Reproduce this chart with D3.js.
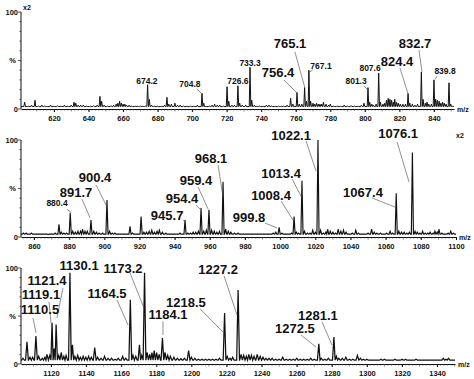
<!DOCTYPE html>
<html><head><meta charset="utf-8">
<script src="https://cdn.jsdelivr.net/npm/d3@7"></script>
<style>body{margin:0;background:#fff}svg{display:block}text{font-family:"Liberation Sans",Arial,sans-serif;font-weight:bold;fill:#111}</style>
</head><body><svg id="c" width="474" height="379"></svg>
<script>
// ---------- DATA ----------
const domain1 = [600.9, 851.6], domain2 = [852.6, 1100], domain3 = [1102.9, 1350.2];
const ticks1 = [620,640,660,680,700,720,740,760,780,800,820,840];
const ticks2 = [860,880,900,920,940,960,980,1000,1020,1040,1060,1080,1100];
const ticks3 = [1120,1140,1160,1180,1200,1220,1240,1260,1280,1300,1320,1340];
const yTickLabels = ["100","%","0"];
const base1 = 2.5, base2 = 3, base3 = 4;
const peaks1 = [[603,7],[605,3],[607,4],[609,9],[611,3],[613,4],[614.5,3],[616,2.5],[618,4],[620,3],[622,3.5],[624,3],[626,4],[628,3],[630,4],[631.6,7],[632.6,6],[634,4],[635.5,4],[637,4],[639,3],[641,3],[643,3.5],[645,4],[646.6,13],[647.6,8],[649,4],[651,3],[653,3.5],[654.5,4],[656,5],[657,6],[658,8],[659,6],[660,5],[661,5],[662,4],[663.5,4],[665,3],[667,3],[668.5,3],[670,3],[671.5,3],[673,3],[674.2,25],[675.2,10],[676.5,4],[678,3],[680,3],[682,3],[684,4],[685.4,12],[686.5,5],[688,5],[690,6],[691.5,4],[693,4],[695,3],[697,3],[699,3],[701,3],[703,4],[705.7,16],[706.7,6],[708,3],[710,3],[711.5,4],[713,5],[714.5,4],[716,4],[718,3],[720.2,23],[721.2,8],[723,4],[724.5,4],[726.5,24],[727.5,6],[729,4],[731,4],[733.5,43],[734.5,9],[736,4],[737.5,3],[739,3],[741,3],[743,4],[744.5,4],[746,3],[748,3],[750,3],[751.5,3],[753,3],[755,4],[757,11],[758.3,5],[760.7,17],[762,5],[763.5,5],[765.1,22],[766.2,8],[767.6,40],[768.6,8],[770,6],[771,5],[772,6],[773,5],[774,5],[775,5],[776,7],[777.5,5],[779,4],[780,5],[782,3],[784,3],[786,3],[788,4],[790,3],[792,3.5],[794,3],[796,3],[798,4],[799.5,6],[801.8,22],[802.8,7],[804,5],[805,4],[806.5,5],[808,37],[809,7],[810.5,5],[811.5,6],[812.5,9],[813.5,11],[814.5,10],[815.5,9],[816.5,7],[817.3,10],[818.3,7],[819.3,6],[820.5,5],[822,5],[823.5,5],[825,16],[826,6],[827.5,5],[829,4],[830.5,5],[832.7,38],[833.7,10],[835,6],[836,7],[837,5],[838.5,5],[840,30],[841,10],[842,9],[843,8],[844,6],[845,7],[846,6],[847,5],[848.7,27],[849.7,5],[851,3]];
const peaks2 = [[854,4],[855.5,4],[857,3],[858.5,4],[860,3],[862,3],[864,3],[866,3],[868,2.5],[870,3],[872,4],[874.2,13],[875.5,5],[877,4],[878.5,4],[880.6,25],[882,6],[883.5,5],[885,6],[886.5,6],[887.6,8],[889,6],[890.3,6],[892.4,17.5],[894,6],[895.5,5],[897,4],[899,4],[901.5,38],[903,6],[904.5,4],[906,4],[908,3],[910,3],[912,3],[914.6,11],[916,4],[918,3],[920.9,21],[922.5,5],[924,5],[925.5,6],[927,7],[928.5,5],[930,6],[931.3,7],[933,5],[935,4],[937,3],[939,3],[941,3],[943,4],[945.9,17.5],[947.5,4],[949,4],[950.5,5],[952,5],[953.5,6],[955,30],[956.5,6],[958,7],[959.5,28],[961,7],[962.5,6],[964,5],[965.5,6],[967.5,57],[969,8],[970.5,6],[972,5],[974,4],[976,4],[978,3],[980,3],[982,3],[984,3],[986,3],[988,3],[990,3],[992,3],[994,3],[996,4],[997.5,5],[999.4,10],[1001,4],[1003,3],[1005,3],[1006.5,4],[1007.9,21],[1009.2,5],[1010.5,4],[1012.4,58],[1013.8,6],[1015.5,4],[1017,4],[1018.5,7],[1020,5],[1021.5,100],[1023,7],[1024.5,4],[1026,5],[1027,8],[1028.5,6],[1030,5],[1031.5,4],[1033,8],[1034.5,6],[1036,7],[1037.5,5],[1039,3],[1041,4],[1043,7],[1044.5,4],[1046,3],[1048,3],[1050,4],[1052,8],[1053.5,5],[1055,4],[1057,4],[1059,3],[1060.5,4],[1062.5,6],[1064,4],[1066,45],[1067.5,6],[1069,5],[1070.5,5],[1072,4],[1073.5,5],[1075.2,87],[1076.7,6],[1078,5],[1079.5,4],[1081,6],[1082.5,4],[1084,4],[1085.3,5],[1087,4],[1088,6],[1089.3,5],[1090.3,8],[1092,4],[1094,3],[1095.5,4],[1097,6],[1098.5,4]];
const peaks3 = [[1104,6],[1106.3,23],[1108,7],[1109.5,7],[1111.4,29],[1113,8],[1115,6],[1116.5,7],[1117.7,10],[1119.3,9],[1120.6,43],[1121.8,16],[1122.9,41],[1124.4,9],[1125.8,12],[1127.3,8],[1128.6,9],[1130.8,95],[1132.2,20],[1133.6,8],[1135.2,9],[1136.7,7],[1138.3,8],[1139.8,7],[1141.4,8],[1143,7],[1144.9,17],[1146.6,7],[1148.5,6],[1150.5,8],[1152.5,6],[1154.5,6],[1156.5,5],[1158.3,6],[1160.8,8],[1162.6,6],[1165.2,67],[1166.7,9],[1168.3,8],[1170.4,20],[1171.7,9],[1173.3,95],[1174.8,12],[1176.2,10],[1177.5,12],[1178.8,14],[1180.2,12],[1181.6,10],[1183.5,27],[1185,12],[1186.5,9],[1188,8],[1190,7],[1192,6],[1194,5.5],[1196,6],[1198.4,14],[1200,7],[1202,6],[1204,5],[1206,5],[1208,5],[1210,5],[1212,5],[1214,5],[1216,6],[1218.9,53],[1220.4,8],[1222,6],[1223.5,7],[1226.6,77],[1228.3,10],[1229.8,9],[1231.3,8],[1232.7,10],[1234.2,9],[1235.7,8],[1237.5,10],[1239.2,8],[1240.8,7],[1242.5,6],[1244.2,6],[1246,6],[1248,5],[1250,5],[1252,7],[1254,5],[1256,5],[1258,5],[1260,6],[1262,5],[1264,5],[1266,5],[1268,6],[1270,5],[1272.6,21],[1274,6],[1276,5],[1278,6],[1281.2,28],[1282.6,8],[1284,6],[1286,6],[1288,7],[1290,5],[1292,5],[1294.6,9],[1296.3,6],[1298,5],[1300,5],[1302,4],[1304,4],[1306,4],[1308,5],[1310,5],[1312,4],[1314,4],[1316,5],[1318,4],[1320,5],[1322,5],[1324,4],[1326,4],[1328,5],[1330,4],[1332,4],[1334,4],[1336,4],[1338,4],[1340,4],[1342,4],[1343.5,6],[1345,5],[1346.5,6],[1348,4]];
// annotations: text, text anchor (m/z, %), big?, optional leader [m/z1,%1,m/z2,%2]
const labels1 = [
 ["674.2",673.8,25.8,0,null],["704.8",698.7,22.7,0,[702.8,20.6,705.7,15.5]],
 ["726.6",726.5,25.8,0,null],["733.3",733.5,44.3,0,null],
 ["765.1",756.7,62.9,1,[759.5,58.8,765.3,21.6]],["756.4",749.7,33,1,[753.2,29.9,760.7,16.5]],
 ["767.1",774.6,41.2,0,[769.8,40.2,767.9,38]],["801.3",794.9,25.8,0,[799.5,23.7,801.8,19.6]],
 ["807.6",803,39.2,0,null],["824.4",818.6,44.3,1,[820.3,42.3,825,15.5]],
 ["832.7",829,62.9,1,[831.3,60.8,833.1,38]],["839.8",846.4,36.1,0,[841.8,34,840.6,30.5]]];
const labels2 = [
 ["880.4",873.1,32,0,[878.8,28.5,881,25.5]],["891.7",883.9,41.5,1,[887.3,39,891.9,19.6]],
 ["900.4",894.7,56.7,1,[895.3,53.6,901,33]],["945.7",935.7,17.5,1,[944.8,17.5,946.5,15.5]],
 ["954.4",944.2,35,1,[952.1,33,954.4,28.9]],["959.4",952.1,53.6,1,[953.3,51.5,959,28.9]],
 ["968.1",960.7,76.3,1,[964.7,74.2,967.5,41.2]],["999.8",982.3,15.5,1,[991.4,14.4,998.2,9.3]],
 ["1008.4",994.8,38.1,1,[1000.5,37.1,1007.3,17.5]],["1013.4",1000.5,60.8,1,[1006.8,59.8,1012.4,40.2]],
 ["1022.1",1006.2,100,1,[1014.7,99,1020.4,68]],["1067.4",1047.1,41.2,1,[1052.3,40.2,1065.3,30.9]],
 ["1076.1",1067.1,102,1,[1066.5,97.9,1073.3,56.7]]];
const labels3 = [
 ["1130.1",1136,97.9,1,null],["1121.4",1117.7,82.3,1,[1126.8,79.2,1123.4,47.9]],
 ["1119.1",1114.3,67.7,1,[1118.9,64.6,1120,42.7]],["1110.5",1113.7,52.1,1,[1109.7,47.9,1111.5,32.3]],
 ["1173.2",1161,94.8,1,[1165,94.8,1173,58.3]],["1164.5",1151.9,68.8,1,[1157.6,66.7,1163.9,40.6]],
 ["1184.1",1186.7,46.5,1,[1183.8,44.5,1183.8,30.2]],["1218.5",1196.9,59.6,1,[1204.9,57.5,1218,33.3]],
 ["1227.2",1215.2,93.8,1,[1218.6,91.7,1226,51]],["1281.1",1272.1,45.8,1,[1274.4,43.8,1280.1,19.8]],
 ["1272.5",1259,32.3,1,[1262.5,30.2,1271,17.7]]];

// ---------- LAYOUT ----------
const panels = [
 {domain:domain1, ticks:ticks1, peaks:peaks1, base:base1, labels:labels1, l:21, r:454, t:12, b:109, w:0.45, sw:1.0, x2:"left"},
 {domain:domain2, ticks:ticks2, peaks:peaks2, base:base2, labels:labels2, l:21, r:456, t:140, b:237, w:0.6, sw:1.15, x2:"right"},
 {domain:domain3, ticks:ticks3, peaks:peaks3, base:base3, labels:labels3, l:21, r:455, t:268, b:364, w:0.8, sw:1.25, x2:null}
];
const svg = d3.select("#c");

panels.forEach(P => {
  const x = d3.scaleLinear().domain(P.domain).range([P.l, P.r]);
  const y = d3.scaleLinear().domain([0,100]).range([P.b, P.t]);
  const g = svg.append("g");

  const pk = P.peaks.slice().sort((a,b)=>a[0]-b[0]);
  const pts = [[P.domain[0], P.base]];
  pk.forEach((p,i) => {
    const prev = i>0 ? pk[i-1][0] : -1e9, next = i<pk.length-1 ? pk[i+1][0] : 1e9;
    const lft = Math.max(p[0]-P.w, (prev+p[0])/2), rgt = Math.min(p[0]+P.w, (p[0]+next)/2);
    pts.push([lft, P.base], [p[0], p[1]], [rgt, P.base]);
  });
  pts.push([P.domain[1], P.base]);
  g.append("path").datum(pts)
    .attr("d", d3.line().x(d=>x(d[0])).y(d=>y(d[1])))
    .attr("fill","none").attr("stroke","#111").attr("stroke-width",P.sw).attr("stroke-linejoin","miter");

  const xAxis = d3.axisBottom(x).tickValues(P.ticks).tickSize(3).tickSizeOuter(0).tickFormat(d3.format("d"));
  const xa = g.append("g").attr("transform",`translate(0,${P.b})`).call(xAxis);
  xa.select(".domain").attr("stroke","#111").attr("stroke-width",1);
  xa.selectAll(".tick line").attr("stroke","#111");
  xa.selectAll(".tick text").attr("font-size",7.5).attr("dy",0).attr("y",11.5).attr("fill","#222")
    .style("font-family","Liberation Sans, Arial").style("font-weight","bold");
  const minor = d3.range(Math.ceil(P.domain[0]/2)*2, P.domain[1], 2);
  g.append("g").selectAll("line").data(minor).join("line")
    .attr("x1",d=>x(d)).attr("x2",d=>x(d)).attr("y1",P.b).attr("y2",d=> d%10===0 ? P.b+2.5 : P.b+1.6)
    .attr("stroke","#333").attr("stroke-width",0.6);
  g.append("text").attr("x",P.r+3).attr("y",P.b+2.5).attr("font-size",7).text("m/z");

  g.append("line").attr("x1",P.l).attr("x2",P.l).attr("y1",y(100)).attr("y2",y(0)).attr("stroke","#111").attr("stroke-width",1);
  g.append("g").selectAll("line").data(d3.range(0,101,10)).join("line")
    .attr("x1",d=> d%50===0 ? P.l-3 : P.l-1.5).attr("x2",P.l).attr("y1",d=>y(d)).attr("y2",d=>y(d))
    .attr("stroke","#111").attr("stroke-width",0.7);
  [[100,18],[50,16],[0,18]].forEach((v,i) => {
    g.append("text").attr("x",v[1]).attr("y",y(v[0])+2.5).attr("text-anchor","end").attr("font-size",7.5).text(yTickLabels[i]);
  });

  if (P.x2==="left") g.append("text").attr("x",P.l+2).attr("y",P.t-2).attr("font-size",7).text("x2");
  if (P.x2==="right") g.append("text").attr("x",P.r).attr("y",y(100)-2).attr("font-size",7).text("x2");

  P.labels.forEach(L => {
    if (L[4]) {
      const q = L[4];
      g.append("line").attr("x1",x(q[0])).attr("y1",y(q[1])).attr("x2",x(q[2])).attr("y2",y(q[3]))
        .attr("stroke","#444").attr("stroke-width",0.6);
    }
    g.append("text").attr("x",x(L[1])).attr("y",y(L[2])).attr("text-anchor","middle")
      .attr("font-size", L[3] ? 13 : 8.5).text(L[0]);
  });
});
</script></body></html>
